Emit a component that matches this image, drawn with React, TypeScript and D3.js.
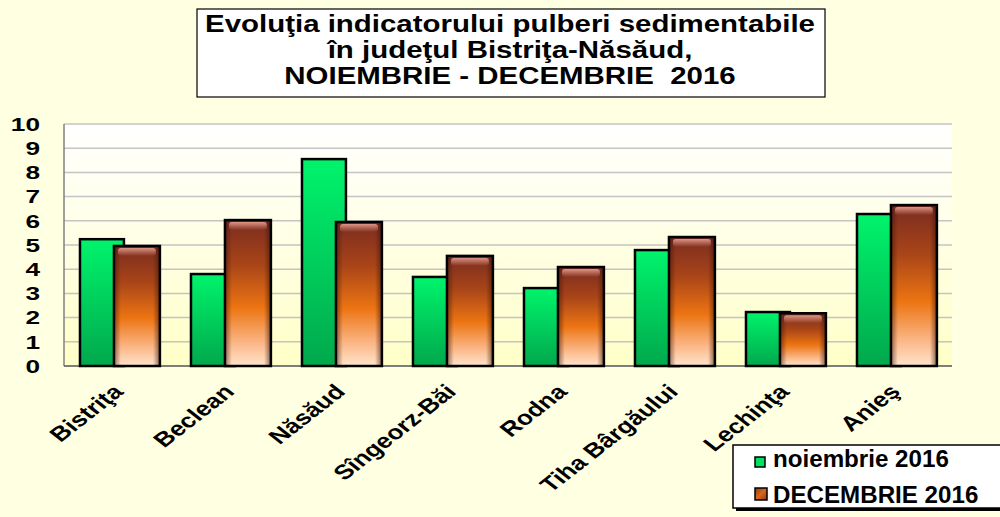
import React from "react";
import * as d3 from "d3";

const categories = ["Bistriţa", "Beclean", "Năsăud", "Sîngeorz-Băi", "Rodna", "Tiha Bârgăului", "Lechinţa", "Anieş"];
const noiembrie = [5.24, 3.8, 8.55, 3.68, 3.22, 4.79, 2.23, 6.28];
const decembrie = [4.96, 6.03, 5.95, 4.55, 4.09, 5.33, 2.18, 6.65];
const yTicks = [0, 1, 2, 3, 4, 5, 6, 7, 8, 9, 10];
const titleLines = [
  "Evoluţia indicatorului pulberi sedimentabile",
  "în judeţul Bistriţa-Năsăud,",
  "NOIEMBRIE - DECEMBRIE  2016",
];
const seriesNames = ["noiembrie 2016", "DECEMBRIE 2016"];

const W = 1000;
const H = 517;
const left = 64;
const right = 952;
const top = 124;
const bottom = 366;
const font = "'Liberation Sans', Arial, sans-serif";

export default function App() {
  const x = d3.scaleBand<string>().domain(categories).range([left, right]).paddingInner(0).paddingOuter(0);
  const y = d3.scaleLinear().domain([0, 10]).range([bottom, top]);
  const bw = x.bandwidth();
  const gOff = bw * 0.144;
  const gW = bw * 0.396;
  const bOff = bw * 0.45;
  const bW = bw * 0.414;

  return (
    <svg width={W} height={H} style={{ position: "absolute", left: 0, top: 0 }} fontFamily={font}>
      <defs>
        <linearGradient id="plotBg" x1="0" y1="0" x2="0" y2="1">
          <stop offset="0" stopColor="#ffffff" />
          <stop offset="1" stopColor="#ffffc8" />
        </linearGradient>
        <linearGradient id="green" x1="0" y1="0" x2="0" y2="1">
          <stop offset="0" stopColor="#00f46c" />
          <stop offset="1" stopColor="#00a84c" />
        </linearGradient>
        <linearGradient id="brown" x1="0" y1="0" x2="0" y2="1">
          <stop offset="0" stopColor="#7a2c20" />
          <stop offset="0.3" stopColor="#a84418" />
          <stop offset="0.6" stopColor="#ec7412" />
          <stop offset="0.85" stopColor="#fbb98a" />
          <stop offset="1" stopColor="#ffe4cc" />
        </linearGradient>
        <linearGradient id="brownEdge" x1="0" y1="0" x2="1" y2="0">
          <stop offset="0" stopColor="#3a1408" stopOpacity="0.55" />
          <stop offset="0.15" stopColor="#3a1408" stopOpacity="0" />
          <stop offset="0.85" stopColor="#3a1408" stopOpacity="0" />
          <stop offset="1" stopColor="#3a1408" stopOpacity="0.6" />
        </linearGradient>
        <linearGradient id="brownTop" x1="0" y1="0" x2="0" y2="1">
          <stop offset="0" stopColor="#e8a090" stopOpacity="0.9" />
          <stop offset="1" stopColor="#e8a090" stopOpacity="0" />
        </linearGradient>
        <linearGradient id="legBrown" x1="0" y1="0" x2="1" y2="1">
          <stop offset="0" stopColor="#8a3a1a" />
          <stop offset="0.5" stopColor="#d8681a" />
          <stop offset="1" stopColor="#8a3a1a" />
        </linearGradient>
      </defs>
      <rect x={0} y={0} width={W} height={H} fill="#ffffe2" />
      <rect x={left} y={top} width={right - left} height={bottom - top} fill="url(#plotBg)" />
      {yTicks.map((t) => (
        <line key={"g" + t} x1={left} x2={right} y1={y(t)} y2={y(t)} stroke="#c4c4c4" strokeWidth={1.5} />
      ))}
      <line x1={left} x2={left} y1={top} y2={bottom} stroke="#808080" strokeWidth={1.5} />
      <line x1={left} x2={right} y1={bottom} y2={bottom} stroke="#606060" strokeWidth={1.5} />
      {yTicks.map((t) => (
        <text
          key={"t" + t}
          transform={`translate(40,${y(t)}) scale(1.38,1)`}
          dy="0.36em"
          textAnchor="end"
          fontSize={19}
          fontWeight="bold"
          fill="#000"
        >
          {t}
        </text>
      ))}
      {categories.map((c, i) => {
        const x0 = x(c)!;
        const gy = y(noiembrie[i]);
        const by = y(decembrie[i]);
        const bx = x0 + bOff;
        const bh = bottom - by;
        return (
          <g key={c}>
            <rect x={x0 + gOff} y={gy} width={gW} height={bottom - gy} fill="url(#green)" stroke="#000" strokeWidth={2.5} />
            <rect x={bx} y={by} width={bW} height={bh} fill="url(#brown)" />
            <rect x={bx} y={by} width={bW} height={bh} fill="url(#brownEdge)" />
            <rect x={bx + 4} y={by + 2} width={bW - 8} height={8} rx={3} fill="url(#brownTop)" />
            <rect x={bx} y={by} width={bW} height={bh} fill="none" stroke="#000" strokeWidth={2.5} />
          </g>
        );
      })}
      {categories.map((c) => {
        const cx = x(c)! + bw / 2;
        return (
          <text
            key={"l" + c}
            transform={`translate(${cx + 5},${bottom + 27}) scale(1.28,1) rotate(-45)`}
            textAnchor="end"
            fontSize={20.5}
            fontWeight="bold"
            fill="#000"
          >
            {c}
          </text>
        );
      })}
      <rect x={197} y={9} width={628} height={88} fill="#fff" stroke="#000" strokeWidth={1.2} />
      {titleLines.map((l, i) => (
        <text
          key={"ti" + i}
          transform={`translate(510,${32 + i * 26}) scale(1.28,1)`}
          textAnchor="middle"
          fontSize={23}
          fontWeight="bold"
          fill="#000"
          style={{ whiteSpace: "pre" }}
        >
          {l}
        </text>
      ))}
      <rect x={736} y={448} width={280} height={63} fill="#000" />
      <rect x={733} y={445} width={280} height={63} fill="#fff" stroke="#000" strokeWidth={1.5} />
      <rect x={755} y={457} width={10} height={10} fill="#00e060" stroke="#000" strokeWidth={1.5} />
      <rect x={755} y={488} width={12} height={12} fill="url(#legBrown)" stroke="#000" strokeWidth={1.5} />
      {seriesNames.map((s, i) => (
        <text
          key={s}
          transform={`translate(773,${467 + i * 36}) scale(1.05,1)`}
          fontSize={23}
          fontWeight="bold"
          fill="#000"
        >
          {s}
        </text>
      ))}
    </svg>
  );
}
